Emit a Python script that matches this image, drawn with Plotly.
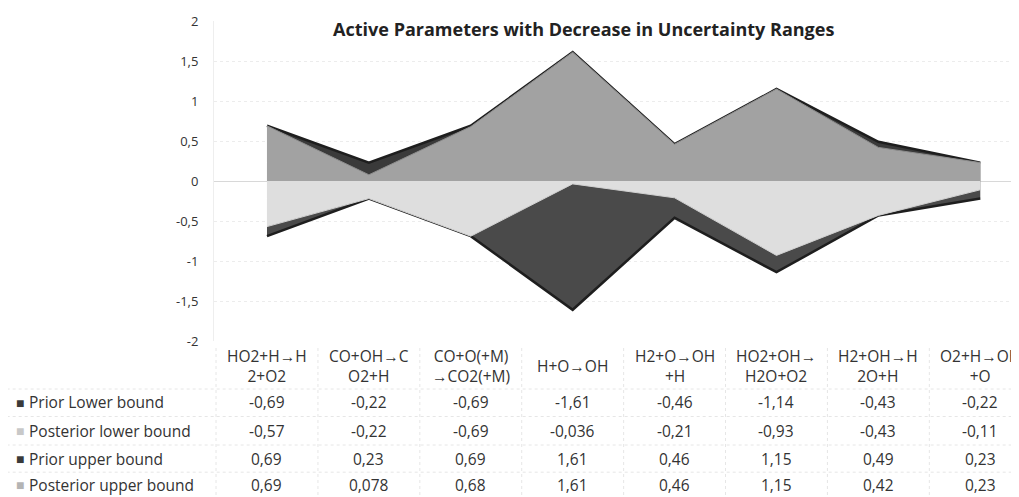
import plotly.graph_objects as go

# --- data ---
reactions = ["HO2+H→H<br>2+O2", "CO+OH→C<br>O2+H", "CO+O(+M)<br>→CO2(+M)", "H+O→OH",
             "H2+O→OH<br>+H", "HO2+OH→<br>H2O+O2", "H2+OH→H<br>2O+H", "O2+H→OH<br>+O"]
prior_lower = [-0.69, -0.22, -0.69, -1.61, -0.46, -1.14, -0.43, -0.22]
posterior_lower = [-0.57, -0.22, -0.69, -0.036, -0.21, -0.93, -0.43, -0.11]
prior_upper = [0.69, 0.23, 0.69, 1.61, 0.46, 1.15, 0.49, 0.23]
posterior_upper = [0.69, 0.078, 0.68, 1.61, 0.46, 1.15, 0.42, 0.23]
y_ticks = [2, 1.5, 1, 0.5, 0, -0.5, -1, -1.5, -2]

series = [
    ("Prior Lower bound", prior_lower, "#4a4a4a", "#1e1e1e", "#3a3a3a"),
    ("Posterior lower bound", posterior_lower, "#dedede", "#d0d0d0", "#c8c8c8"),
    ("Prior upper bound", prior_upper, "#3a3a3a", "#1e1e1e", "#3a3a3a"),
    ("Posterior upper bound", posterior_upper, "#a2a2a2", "#8c8c8c", "#b4b4b4"),
]

FONT = "'Open Sans', sans-serif"
TXT = "#333333"
x = list(range(len(reactions)))

def fmt(v):
    return f"{v:g}".replace(".", ",")

fig = go.Figure()
for name, vals, fill, edge, key in series:
    fig.add_trace(go.Scatter(
        x=x, y=vals, mode="lines", name=name, fill="tozeroy",
        fillcolor=fill, line=dict(color=edge, width=2.5 if "Prior" in name else 1),
        showlegend=False, hoverinfo="name+y",
    ))

# data table below the plot (paper y: 0 = bottom of plot area)
row_y = [-0.191, -0.281, -0.368, -0.449]
for (name, vals, fill, edge, key), yy in zip(series, row_y):
    fig.add_annotation(x=-0.249, y=yy, xref="paper", yref="paper", text="■",
                       showarrow=False, xanchor="left", yanchor="middle",
                       font=dict(size=14, color=key))
    fig.add_annotation(x=-0.232, y=yy, xref="paper", yref="paper", text=name,
                       showarrow=False, xanchor="left", yanchor="middle",
                       font=dict(size=15.5, color=TXT, family=FONT))
    for i, v in enumerate(vals):
        fig.add_annotation(x=i, y=yy, xref="x", yref="paper", text=fmt(v),
                           showarrow=False, yanchor="middle",
                           font=dict(size=15.5, color=TXT, family=FONT))

for i, r in enumerate(reactions):
    fig.add_annotation(x=i, y=-0.078, xref="x", yref="paper", text=r,
                       showarrow=False, yanchor="middle",
                       font=dict(size=15.5, color=TXT, family=FONT))

# faint table grid
for yy in [-0.15, -0.236, -0.325, -0.41]:
    fig.add_shape(type="line", xref="paper", yref="paper", x0=-0.265, x1=1.0,
                  y0=yy, y1=yy, line=dict(color="#e6e6e6", width=1, dash="dot"))
for i in range(len(reactions)):
    fig.add_shape(type="line", xref="x", yref="paper", x0=i - 0.5, x1=i - 0.5,
                  y0=-0.5, y1=-0.02, line=dict(color="#e6e6e6", width=1, dash="dot"))

fig.update_layout(
    width=1019, height=497,
    margin=dict(l=206, r=8, t=13, b=164, autoexpand=False),
    paper_bgcolor="white", plot_bgcolor="white",
    font=dict(family=FONT, size=13, color=TXT),
    title=dict(text="<b>Active Parameters with Decrease in Uncertainty Ranges</b>",
               x=0.565, xanchor="center", y=0.956, yanchor="middle",
               font=dict(size=18, color="#222222", family=FONT)),
    xaxis=dict(range=[-0.52, 7.38], showticklabels=False, showgrid=False,
               zeroline=False, showline=False),
    yaxis=dict(range=[-2, 2], tickvals=y_ticks, ticktext=[fmt(t) for t in y_ticks],
               showgrid=True, gridcolor="#ececec", griddash="dot",
               zeroline=True, zerolinecolor="#d8d8d8", zerolinewidth=1,
               showline=True, linecolor="#eeeeee", ticklabelstandoff=12,
               tickfont=dict(size=13, color=TXT, family=FONT)),
)

fig.write_html("out.html")
